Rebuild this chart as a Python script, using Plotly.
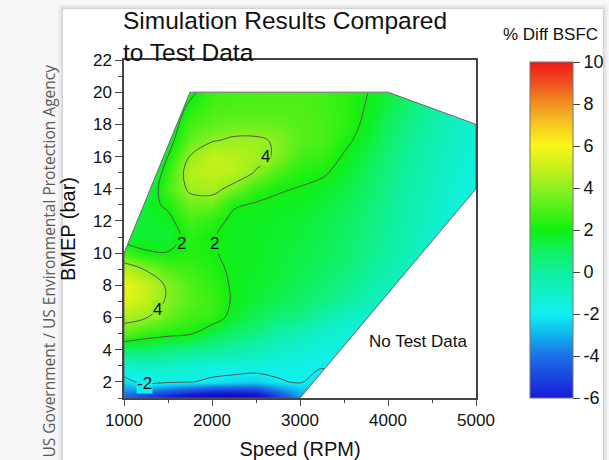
import plotly.graph_objects as go

# ---------------- data ----------------
speed_rpm = [1000, 1250, 1500, 1750, 2000, 2250, 2500, 2750, 3000,
             3250, 3500, 3750, 4000, 4250, 4500, 4750, 5000]
bmep_bar = list(range(1, 21))

# % Diff BSFC, one row per BMEP value (bottom to top), columns follow speed_rpm
diff_bsfc = [
    [-4.5, -5.5, -6.5, -7.5, -8, -8, -7.5, -5.5, -3.5, -3.2, -2.3, -1.9, -1.85, -1.85, -1.9, -1.9, -1.9],
    [-2.4, -1.6, -1.8, -1.95, -2.2, -2.4, -2.6, -2.1, -1.9, -2.5, -1.9, -1.8, -1.8, -1.8, -1.85, -1.9, -1.9],
    [-1.2, -1.0, -1.0, -1.2, -1.5, -1.5, -1.5, -1.7, -1.75, -1.9, -1.75, -1.7, -1.7, -1.75, -1.8, -1.85, -1.9],
    [0.8, 0.8, 0.5, 0.3, 0.1, -0.2, -0.5, -1.0, -1.3, -1.6, -1.6, -1.6, -1.6, -1.7, -1.75, -1.85, -1.85],
    [3.2, 2.55, 2.3, 2.1, 1.3, 0.8, 0.5, -0.2, -0.6, -1.1, -1.4, -1.5, -1.5, -1.65, -1.7, -1.8, -1.85],
    [4.45, 4.05, 3.3, 2.8, 2.55, 1.6, 1.1, 0.6, 0.5, -0.3, -0.9, -1.2, -1.4, -1.5, -1.65, -1.8, -1.85],
    [5.5, 4.9, 3.8, 3.1, 2.7, 1.85, 1.5, 1.2, 0.9, 0.5, 0.1, -0.4, -1.2, -1.35, -1.6, -1.75, -1.8],
    [5.8, 5.0, 3.8, 3.0, 2.5, 1.85, 1.6, 1.4, 1.1, 0.8, 0.4, -0.1, -0.6, -1.2, -1.5, -1.7, -1.8],
    [4.8, 3.9, 3.0, 2.7, 2.3, 1.8, 1.7, 1.5, 1.25, 1.0, 0.65, 0.2, -0.3, -0.9, -1.4, -1.65, -1.8],
    [2.8, 2.1, 2.05, 2.3, 2.1, 1.75, 1.75, 1.55, 1.35, 1.15, 0.85, 0.4, -0.1, -0.6, -1.3, -1.6, -1.78],
    [1.5, 1.6, 1.5, 2.4, 2.05, 1.75, 1.75, 1.6, 1.45, 1.25, 0.95, 0.5, 0.05, -0.5, -1.2, -1.55, -1.76],
    [1.2, 1.6, 1.7, 2.8, 2.4, 1.75, 1.8, 1.7, 1.55, 1.35, 1.05, 0.6, 0.15, -0.4, -1.05, -1.5, -1.74],
    [1.0, 1.6, 2.2, 3.4, 3.4, 2.1, 1.9, 1.8, 1.7, 1.5, 1.2, 0.75, 0.25, -0.3, -0.9, -1.4, -1.7],
    [0.8, 1.0, 2.8, 4.25, 4.4, 3.6, 2.5, 2.1, 1.95, 1.7, 1.4, 0.9, 0.35, -0.2, -0.8, -1.3, -1.65],
    [0.5, 0.5, 2.6, 4.6, 4.9, 4.75, 3.9, 2.9, 2.3, 2.15, 1.65, 1.1, 0.5, -0.1, -0.65, -1.2, -1.55],
    [0.4, 0.4, 2.02, 4.05, 5.0, 4.7, 4.4, 3.8, 2.8, 2.6, 1.9, 1.35, 0.65, 0.05, -0.5, -1.05, -1.45],
    [0.4, 0.4, 1.5, 3.3, 3.9, 4.2, 4.2, 3.85, 3.1, 2.9, 2.25, 1.6, 0.85, 0.2, -0.35, -0.9, -1.35],
    [0.4, 0.4, 1.2, 2.8, 3.2, 3.4, 3.4, 3.3, 3.1, 2.9, 2.5, 1.8, 1.05, 0.4, -0.2, -0.8, -1.25],
    [0.4, 0.4, 1.0, 2.3, 2.9, 3.0, 3.0, 3.0, 3.0, 2.8, 2.5, 1.95, 1.3, 0.6, 0.0, -0.7, -1.2],
    [0.4, 0.4, 1.0, 1.7, 2.7, 2.8, 2.9, 2.9, 2.9, 2.8, 2.5, 2.05, 1.5, 0.7, 0.1, -0.6, -1.1],
]

# region covered by test data (outline of the coloured area)
region_speed = [1000, 1000, 1750, 4000, 5000, 5000, 3000, 1000]
region_bmep = [1, 10, 20, 20, 18, 14, 1, 1]

contour_levels_pos = [2, 4]
contour_levels_neg = [-2]

# contour labels as placed in the reference: (text, speed, bmep)
contour_label_text = ['2', '2', '4', '4', '-2']
contour_label_speed = [1650, 2030, 2610, 1380, 1230]
contour_label_bmep = [10.6, 10.6, 16.0, 6.5, 1.9]
contour_label_value = [2, 2, 4, 4, -2]

x_ticks = [1000, 2000, 3000, 4000, 5000]
y_ticks = [2, 4, 6, 8, 10, 12, 14, 16, 18, 20, 22]
cbar_ticks = [-6, -4, -2, 0, 2, 4, 6, 8, 10]

# ---------------- styling ----------------
FONT = "Arial, Liberation Sans, sans-serif"
X_RANGE = [1000, 5000]
Y_RANGE = [1, 22]
CB_MIN, CB_MAX = -6, 10
Z_MIN = -8

stops = [(-8, '#0000a0'), (-6, '#1a1ad8'), (-4, '#1a70e8'), (-3, '#10b4ec'),
         (-2, '#10f0f0'), (-1, '#10f0c8'), (0, '#10f0a0'), (1, '#10f060'),
         (2, '#10f010'), (3, '#50f018'), (4, '#90f020'), (5, '#c8f018'),
         (6, '#f8f818'), (7, '#f8c820'), (8, '#f09020'), (9, '#f05020'),
         (10, '#f01818')]
stop_color = dict(stops)
heat_scale = [[(v - Z_MIN) / (CB_MAX - Z_MIN), c] for v, c in stops]
bar_scale = [[(v - CB_MIN) / (CB_MAX - CB_MIN), c] for v, c in stops if v >= CB_MIN]

W, H = 609, 460
ML, MR, MT, MB = 124, 133, 60, 62
PW, PH = W - ML - MR, H - MT - MB


def px(xp):
    return (xp - ML) / PW


def py(yp):
    return (H - MB - yp) / PH


fig = go.Figure()

# smooth colour field
fig.add_trace(go.Contour(
    x=speed_rpm, y=bmep_bar, z=diff_bsfc,
    colorscale=heat_scale, zmin=Z_MIN, zmax=CB_MAX, zauto=False,
    contours=dict(coloring='heatmap', showlines=False),
    line=dict(width=0), showscale=False, hoverinfo='skip'))

# contour lines
for lv in (contour_levels_pos, contour_levels_neg):
    fig.add_trace(go.Contour(
        x=speed_rpm, y=bmep_bar, z=diff_bsfc,
        autocontour=False,
        contours=dict(coloring='none', start=min(lv), end=max(lv), size=2,
                      showlabels=False),
        line=dict(color='#555', width=1, smoothing=1),
        showscale=False, hoverinfo='skip'))

# white mask outside the test-data region
top_x = region_speed[1:5] + [X_RANGE[1], X_RANGE[0], region_speed[1]]
top_y = region_bmep[1:5] + [Y_RANGE[1], Y_RANGE[1], region_bmep[1]]
bot_x = region_speed[5:7] + [X_RANGE[1], region_speed[5]]
bot_y = region_bmep[5:7] + [Y_RANGE[0], region_bmep[5]]
fig.add_trace(go.Scatter(
    x=top_x + [None] + bot_x, y=top_y + [None] + bot_y,
    mode='lines', fill='toself', fillcolor='white',
    line=dict(width=0, color='rgba(0,0,0,0)'), hoverinfo='skip', showlegend=False))

# outline of region
fig.add_trace(go.Scatter(
    x=region_speed, y=region_bmep, mode='lines',
    line=dict(color='#666', width=1), hoverinfo='skip', showlegend=False))

# colour bar
fig.add_trace(go.Scatter(
    x=[None], y=[None], mode='markers', showlegend=False, hoverinfo='skip',
    marker=dict(color=[CB_MIN, CB_MAX], colorscale=bar_scale, cmin=CB_MIN, cmax=CB_MAX,
                showscale=True,
                colorbar=dict(
                    thickness=43, thicknessmode='pixels',
                    len=336, lenmode='pixels',
                    x=px(530), xanchor='left', xpad=0,
                    y=py(62), yanchor='top', ypad=0,
                    outlinecolor='#777', outlinewidth=1,
                    tickmode='array', tickvals=cbar_ticks,
                    ticktext=[str(v) for v in cbar_ticks],
                    ticks='outside', ticklen=7, tickcolor='#444',
                    tickfont=dict(family=FONT, size=18, color='#111')))))

shapes = []
# card shadow + card
for k, a in [(5, 0.02), (3.5, 0.03), (2, 0.04), (1, 0.05)]:
    shapes.append(dict(type='rect', xref='paper', yref='paper', layer='below',
                       x0=px(63 - k), x1=px(603 + k), y0=py(475), y1=py(9 - k),
                       line=dict(width=0), fillcolor=f'rgba(0,0,0,{a})'))
shapes.append(dict(type='rect', xref='paper', yref='paper', layer='below',
                   x0=px(63), x1=px(603), y0=py(475), y1=py(9),
                   line=dict(width=0), fillcolor='white'))

annotations = [
    dict(text='Simulation Results Compared<br>to Test Data', x=px(121), y=py(5),
         xref='paper', yref='paper', xanchor='left', yanchor='top', align='left',
         showarrow=False, font=dict(family=FONT, size=24.5, color='#111')),
    dict(text='No Test Data', x=4341, y=4.48, xref='x', yref='y',
         showarrow=False, font=dict(family=FONT, size=17, color='#111')),
    dict(text='% Diff BSFC', x=px(550), y=py(35), xref='paper', yref='paper',
         xanchor='center', yanchor='middle', showarrow=False,
         font=dict(family=FONT, size=17, color='#111')),
    dict(text='US Government / US Environmental Protection Agency',
         x=px(48), y=py(63), xref='paper', yref='paper',
         xanchor='center', yanchor='top', textangle=-90, showarrow=False,
         font=dict(family='Open Sans, sans-serif', size=15.5, color='#5a5a5a')),
]
for t, xs, yb, v in zip(contour_label_text, contour_label_speed,
                        contour_label_bmep, contour_label_value):
    annotations.append(dict(text=t, x=xs, y=yb, xref='x', yref='y', showarrow=False,
                            bgcolor=stop_color[v], borderpad=0,
                            font=dict(family=FONT, size=17, color='#111')))

fig.update_layout(
    width=W, height=H,
    margin=dict(l=ML, r=MR, t=MT, b=MB, pad=0, autoexpand=False),
    paper_bgcolor='#f7f7f7', plot_bgcolor='white',
    font=dict(family=FONT, color='#111'),
    showlegend=False,
    shapes=shapes,
    xaxis=dict(range=X_RANGE, tickvals=x_ticks, ticks='outside', ticklen=6,
               tickcolor='#444', tickwidth=1,
               showline=True, linecolor='#444', linewidth=1.5, mirror=True,
               showgrid=False, zeroline=False,
               minor=dict(ticks='outside', ticklen=3, tick0=1000, dtick=500,
                          tickcolor='#444', showgrid=False),
               tickfont=dict(family=FONT, size=17, color='#111'),
               title=dict(text='Speed (RPM)', font=dict(family=FONT, size=20, color='#111'),
                          standoff=14)),
    yaxis=dict(range=Y_RANGE, tickvals=y_ticks, ticks='outside', ticklen=7,
               tickcolor='#444', tickwidth=1,
               showline=True, linecolor='#444', linewidth=1.5, mirror=True,
               showgrid=False, zeroline=False,
               minor=dict(ticks='outside', ticklen=4, tick0=1, dtick=1,
                          tickcolor='#444', showgrid=False),
               tickfont=dict(family=FONT, size=17, color='#111'),
               title=dict(text='BMEP (bar)', font=dict(family=FONT, size=20, color='#111'),
                          standoff=12)),
    annotations=annotations,
)

fig.write_html('out.html')
